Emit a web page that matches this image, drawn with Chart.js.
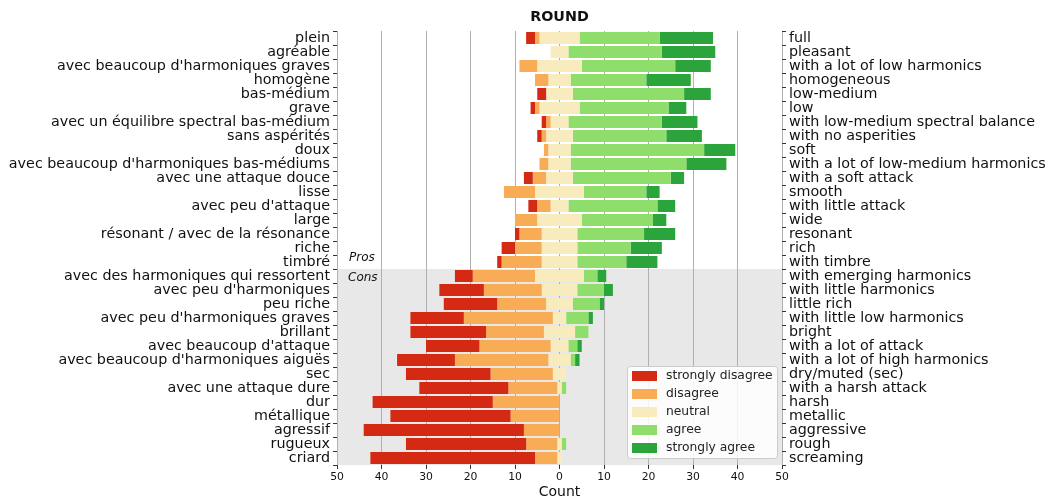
<!DOCTYPE html>
<html>
<head>
<meta charset="utf-8">
<script src="https://cdn.jsdelivr.net/npm/chart.js@4"></script>
<style>
  html, body { margin: 0; padding: 0; background: #fff; }
  #wrap { width: 1052px; height: 501px; }
</style>
</head>
<body>
<div id="wrap"><canvas id="chart"></canvas></div>
<script>
const labelsFr = ['plein', 'agréable', "avec beaucoup d'harmoniques graves", 'homogène', 'bas-médium', 'grave',
  'avec un équilibre spectral bas-médium', 'sans aspérités', 'doux', "avec beaucoup d'harmoniques bas-médiums",
  'avec une attaque douce', 'lisse', "avec peu d'attaque", 'large', 'résonant / avec de la résonance', 'riche', 'timbré',
  'avec des harmoniques qui ressortent', "avec peu d'harmoniques", 'peu riche', "avec peu d'harmoniques graves",
  'brillant', "avec beaucoup d'attaque", "avec beaucoup d'harmoniques aiguës", 'sec', 'avec une attaque dure',
  'dur', 'métallique', 'agressif', 'rugueux', 'criard'];
const labelsEn = ['full', 'pleasant', 'with a lot of low harmonics', 'homogeneous', 'low-medium', 'low',
  'with low-medium spectral balance', 'with no asperities', 'soft', 'with a lot of low-medium harmonics',
  'with a soft attack', 'smooth', 'with little attack', 'wide', 'resonant', 'rich', 'with timbre',
  'with emerging harmonics', 'with little harmonics', 'little rich', 'with little low harmonics',
  'bright', 'with a lot of attack', 'with a lot of high harmonics', 'dry/muted (sec)', 'with a harsh attack',
  'harsh', 'metallic', 'aggressive', 'rough', 'screaming'];

const stronglyDisagree = [2, 0, 0, 0, 2, 1, 1, 1, 0, 0, 2, 0, 2, 0, 1, 3, 1, 4, 10, 12, 12, 17, 12, 13, 19, 20, 27, 27, 36, 27, 37];
const disagree = [1, 0, 4, 3, 0, 1, 1, 1, 1, 2, 3, 7, 3, 5, 5, 6, 9, 14, 13, 11, 20, 13, 16, 21, 14, 11, 15, 11, 8, 7, 5];
const neutral = [9, 4, 10, 5, 6, 9, 4, 6, 5, 5, 6, 11, 4, 10, 8, 8, 8, 11, 8, 6, 3, 7, 4, 5, 3, 1, 0, 0, 0, 1, 1];
const agree = [18, 21, 21, 17, 25, 20, 21, 21, 30, 26, 22, 14, 20, 16, 15, 12, 11, 3, 6, 6, 5, 3, 2, 1, 0, 1, 0, 0, 0, 1, 0];
const stronglyAgree = [12, 12, 8, 10, 6, 4, 8, 8, 7, 9, 3, 3, 4, 3, 7, 7, 7, 2, 2, 1, 1, 0, 1, 1, 0, 0, 0, 0, 0, 0, 0];
const prosCount = 17;

const colors = ['#d42a14', '#f9ac56', '#f8ebbe', '#8fdd6a', '#2aa43b'];
const FONT = "'DejaVu Sans', sans-serif";

// floating bars, centered on the middle of neutral
const sdBars = labelsFr.map((_, i) => {
  const e = -(neutral[i] / 2 + disagree[i]);
  return [e - stronglyDisagree[i], e];
});
const dBars = labelsFr.map((_, i) => [-(neutral[i] / 2 + disagree[i]), -neutral[i] / 2]);
const nBars = labelsFr.map((_, i) => [-neutral[i] / 2, neutral[i] / 2]);
const aBars = labelsFr.map((_, i) => [neutral[i] / 2, neutral[i] / 2 + agree[i]]);
const saBars = labelsFr.map((_, i) => {
  const s = neutral[i] / 2 + agree[i];
  return [s, s + stronglyAgree[i]];
});

const names = ['strongly disagree', 'disagree', 'neutral', 'agree', 'strongly agree'];
const series = [sdBars, dBars, nBars, aBars, saBars];

const prosCons = {
  id: 'prosCons',
  beforeDraw(chart) {
    const { ctx, chartArea: a, scales } = chart;
    const y = scales.y;
    const yb = (y.getPixelForValue(prosCount - 1) + y.getPixelForValue(prosCount)) / 2;
    ctx.save();
    ctx.fillStyle = '#e8e8e8';
    ctx.fillRect(a.left, yb, a.right - a.left, a.bottom - yb);
    ctx.restore();
  },
  afterDatasetsDraw(chart) {
    const { ctx, chartArea: a, scales } = chart;
    const y = scales.y;
    const yb = (y.getPixelForValue(prosCount - 1) + y.getPixelForValue(prosCount)) / 2;
    ctx.save();
    ctx.fillStyle = '#111';
    ctx.font = 'italic 12px ' + FONT;
    ctx.textBaseline = 'middle';
    ctx.fillText('Pros', a.left + 12, yb - 11);
    ctx.fillText('Cons', a.left + 11, yb + 9);
    // title, centred over the plot area
    ctx.font = 'bold 14.3px ' + FONT;
    ctx.textAlign = 'center';
    ctx.fillText('ROUND', (a.left + a.right) / 2, 17);
    ctx.restore();
  }
};

const boxLegend = {
  id: 'boxLegend',
  afterDraw(chart) {
    const { ctx, chartArea: a } = chart;
    const w = 150, h = 92, x = a.right - 5 - w, y = a.bottom - 7 - h;
    ctx.save();
    ctx.fillStyle = 'rgba(255,255,255,0.85)';
    ctx.strokeStyle = '#cccccc';
    ctx.lineWidth = 1;
    ctx.beginPath();
    ctx.roundRect(x + 0.5, y + 0.5, w, h, 3);
    ctx.fill();
    ctx.stroke();
    ctx.font = '12.3px ' + FONT;
    ctx.textBaseline = 'middle';
    names.forEach((n, i) => {
      const cy = y + 10 + i * 18;
      ctx.fillStyle = colors[i];
      ctx.fillRect(x + 5, cy - 5, 25, 10);
      ctx.fillStyle = '#222';
      ctx.fillText(n, x + 39, cy);
    });
    ctx.restore();
  }
};

new Chart(document.getElementById('chart'), {
  type: 'bar',
  data: {
    labels: labelsFr,
    datasets: series.map((d, i) => ({
      label: names[i],
      data: d,
      backgroundColor: colors[i],
      borderWidth: 0,
      grouped: false,
      barPercentage: 0.86,
      categoryPercentage: 1
    }))
  },
  options: {
    indexAxis: 'y',
    responsive: true,
    maintainAspectRatio: false,
    animation: false,
    layout: { padding: { top: 31, left: 0, right: 0, bottom: 0 } },
    plugins: {
      legend: { display: false },
      tooltip: { enabled: false },
      title: { display: false }
    },
    scales: {
      x: {
        type: 'linear',
        min: -50,
        max: 50,
        afterFit: s => { s.height = 36; },
        ticks: {
          stepSize: 10,
          padding: 2,
          color: '#111',
          font: { family: FONT, size: 10.8 },
          callback: v => Math.abs(v)
        },
        grid: { color: '#b0b0b0', lineWidth: 1, tickColor: '#333', tickLength: 4 },
        border: { display: false },
        title: {
          display: true,
          text: 'Count',
          color: '#111',
          font: { family: FONT, size: 14 },
          padding: { top: 0, bottom: 0 }
        }
      },
      y: {
        type: 'category',
        position: 'left',
        offset: true,
        afterFit: s => { s.width = 337; },
        ticks: { color: '#111', padding: 3, font: { family: FONT, size: 14.3 }, autoSkip: false },
        grid: { drawOnChartArea: false, tickColor: '#333', tickLength: 4 },
        border: { display: false }
      },
      y2: {
        type: 'category',
        position: 'right',
        labels: labelsEn,
        offset: true,
        afterFit: s => { s.width = 270; },
        ticks: { color: '#111', padding: 3, font: { family: FONT, size: 14.3 }, autoSkip: false },
        grid: { drawOnChartArea: false, tickColor: '#333', tickLength: 4 },
        border: { display: false }
      }
    }
  },
  plugins: [prosCons, boxLegend]
});
</script>
</body>
</html>
